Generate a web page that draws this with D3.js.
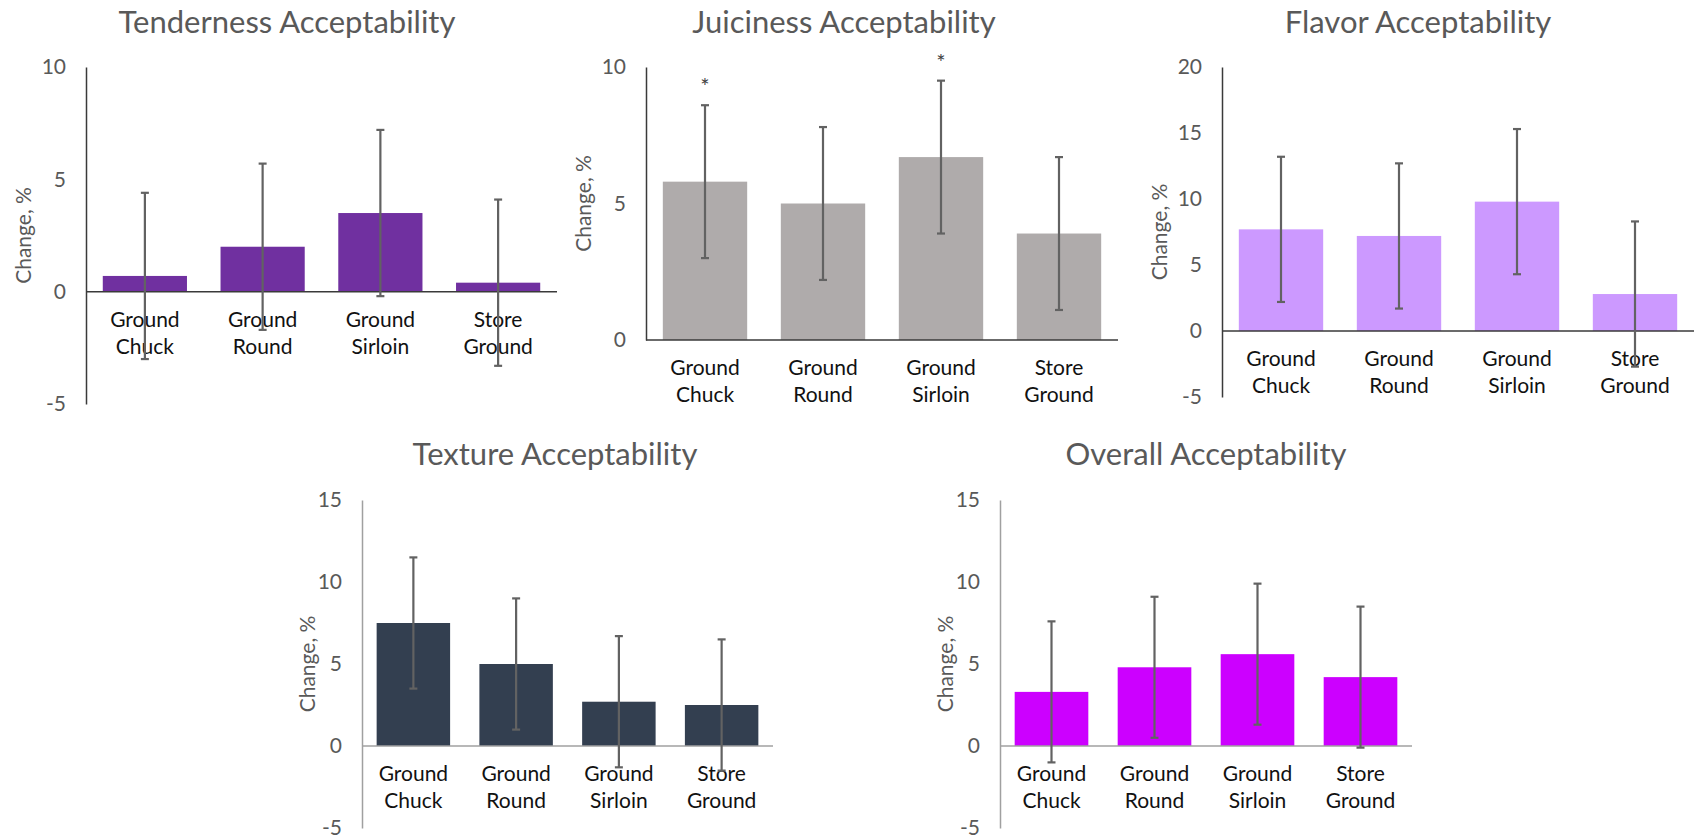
<!DOCTYPE html>
<html>
<head>
<meta charset="utf-8">
<script src="https://cdn.jsdelivr.net/npm/d3@7"></script>
<style>
  html, body { margin: 0; padding: 0; background: #fff; }
  svg { display: block; }
  text { font-family: Lato, "Open Sans", sans-serif; }
</style>
</head>
<body>
<svg id="chart" width="1695" height="839"></svg>
<script>
// Beef cuts compared in every panel
const categories = [["Ground", "Chuck"], ["Ground", "Round"], ["Ground", "Sirloin"], ["Store", "Ground"]];

// Mean change (%) per cut, one array per sensory attribute
const tenderness = [0.7, 2.0, 3.5, 0.4];
const juiciness  = [5.8, 5.0, 6.7, 3.9];
const flavor     = [7.7, 7.2, 9.8, 2.8];
const texture    = [7.5, 5.0, 2.7, 2.5];
const overall    = [3.3, 4.8, 5.6, 4.2];

// Error bar half-widths (%)
const tendernessErr = [3.7, 3.7, 3.7, 3.7];
const juicinessErr  = [2.8, 2.8, 2.8, 2.8];
const flavorErr     = [5.5, 5.5, 5.5, 5.5];
const textureErr    = [4.0, 4.0, 4.0, 4.0];
const overallErr    = [4.3, 4.3, 4.3, 4.3];

// Significance markers (true = "*")
const juicinessSig = [true, false, true, false];

// Axis tick values
const ticksTenderness = [-5, 0, 5, 10];
const ticksJuiciness  = [0, 5, 10];
const ticksFlavor     = [-5, 0, 5, 10, 15, 20];
const ticksTexture    = [-5, 0, 5, 10, 15];
const ticksOverall    = [-5, 0, 5, 10, 15];

const titles = ["Tenderness Acceptability", "Juiciness Acceptability", "Flavor Acceptability",
                "Texture Acceptability", "Overall Acceptability"];
const yLabel = "Change, %";

const panels = [
  { title: titles[0], values: tenderness, errs: tendernessErr, ticks: ticksTenderness,
    color: "#7030A0", axisColor: "#3a3a3a", labelGap: 62,
    x0: 86, x1: 557, yTop: 67, yBot: 404, titleX: 287, titleY: 33 },
  { title: titles[1], values: juiciness, errs: juicinessErr, ticks: ticksJuiciness, sig: juicinessSig,
    color: "#AFABAB", axisColor: "#3a3a3a", labelGap: 62,
    x0: 646, x1: 1118, yTop: 67, yBot: 340, titleX: 844, titleY: 33 },
  { title: titles[2], values: flavor, errs: flavorErr, ticks: ticksFlavor,
    color: "#CC99FF", axisColor: "#3a3a3a", labelGap: 62,
    x0: 1222, x1: 1694, yTop: 67, yBot: 397, titleX: 1418, titleY: 33 },
  { title: titles[3], values: texture, errs: textureErr, ticks: ticksTexture,
    color: "#333F50", axisColor: "#a0a0a0", labelGap: 54,
    x0: 362, x1: 773, yTop: 500, yBot: 828, titleX: 555, titleY: 465 },
  { title: titles[4], values: overall, errs: overallErr, ticks: ticksOverall,
    color: "#CC00FF", axisColor: "#a0a0a0", labelGap: 54,
    x0: 1000, x1: 1412, yTop: 500, yBot: 828, titleX: 1206, titleY: 465 }
];

const svg = d3.select("#chart");
const textGray = "#595959";
const errColor = "#626262";

panels.forEach(p => {
  const g = svg.append("g");
  const y = d3.scaleLinear()
    .domain([d3.min(p.ticks), d3.max(p.ticks)])
    .range([p.yBot, p.yTop]);
  const x = d3.scaleBand()
    .domain(d3.range(categories.length))
    .range([p.x0, p.x1])
    .paddingInner(0.285)
    .paddingOuter(0.1425);
  const zero = y(0);

  // title
  g.append("text")
    .attr("x", p.titleX).attr("y", p.titleY)
    .attr("text-anchor", "middle")
    .attr("font-size", 31)
    .attr("fill", textGray)
    .text(p.title);

  // y axis: line plus tick labels only (plain hyphen for negatives)
  const yAxis = d3.axisLeft(y).tickValues(p.ticks).tickSize(0).tickPadding(20).tickFormat(d => String(d));
  const ya = g.append("g").attr("transform", `translate(${p.x0},0)`).call(yAxis);
  ya.select(".domain").attr("stroke", p.axisColor).attr("stroke-width", 1.5);
  ya.selectAll("text").attr("font-size", 21).attr("fill", textGray).attr("font-family", "Lato, sans-serif");

  // y axis title
  g.append("text")
    .attr("transform", `translate(${p.x0 - p.labelGap},${(p.yTop + p.yBot) / 2}) rotate(-90)`)
    .attr("text-anchor", "middle")
    .attr("dy", "0.35em")
    .attr("font-size", 21)
    .attr("fill", textGray)
    .text(yLabel);

  // bars
  g.selectAll("rect.bar").data(p.values).join("rect")
    .attr("class", "bar")
    .attr("x", (d, i) => x(i))
    .attr("width", x.bandwidth())
    .attr("y", d => Math.min(y(d), zero))
    .attr("height", d => Math.abs(y(d) - zero))
    .attr("fill", p.color);

  // horizontal category axis at zero
  g.append("line")
    .attr("x1", p.x0).attr("x2", p.x1)
    .attr("y1", zero).attr("y2", zero)
    .attr("stroke", p.axisColor).attr("stroke-width", 1.5);

  // category labels (two lines)
  categories.forEach((c, i) => {
    const cx = x(i) + x.bandwidth() / 2;
    c.forEach((line, k) => {
      g.append("text")
        .attr("x", cx).attr("y", zero + 35 + k * 27)
        .attr("text-anchor", "middle")
        .attr("font-size", 21)
        .attr("fill", "#111")
        .text(line);
    });
  });

  // error bars
  const eb = g.selectAll("g.err").data(p.values).join("g").attr("class", "err");
  eb.each(function (d, i) {
    const e = d3.select(this);
    const cx = x(i) + x.bandwidth() / 2;
    const hi = y(d + p.errs[i]), lo = y(d - p.errs[i]);
    e.append("line").attr("x1", cx).attr("x2", cx).attr("y1", hi).attr("y2", lo)
      .attr("stroke", errColor).attr("stroke-width", 2.2);
    [hi, lo].forEach(yy => e.append("line")
      .attr("x1", cx - 4).attr("x2", cx + 4).attr("y1", yy).attr("y2", yy)
      .attr("stroke", errColor).attr("stroke-width", 2.2));
    if (p.sig && p.sig[i]) {
      e.append("text")
        .attr("x", cx).attr("y", hi - 11)
        .attr("text-anchor", "middle")
        .attr("font-size", 22)
        .attr("fill", "#404040")
        .text("*");
    }
  });
});
</script>
</body>
</html>
